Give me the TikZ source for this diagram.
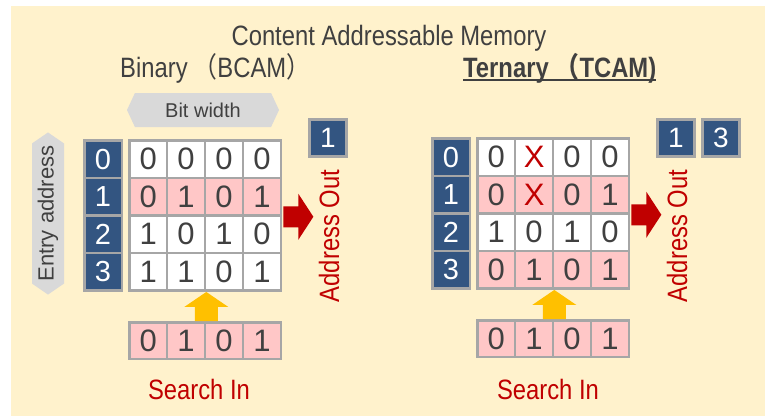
\documentclass[tikz,border=0pt]{standalone}
\usepackage{fontspec}
\setmainfont{Liberation Sans}
\newfontfamily\condfont[FakeStretch=0.85]{Liberation Sans}
\newfontfamily\cjkfont[FakeStretch=0.85]{Noto Sans CJK SC}
\usetikzlibrary{calc,shapes.arrows}
\definecolor{paper}{HTML}{FFF2CC}
\definecolor{ink}{HTML}{404040}
\definecolor{rim}{HTML}{A6A6A6}
\definecolor{slate}{HTML}{335581}
\definecolor{blush}{HTML}{FFC7C7}
\definecolor{crimson}{HTML}{C00000}
\definecolor{amber}{HTML}{FFC000}
\definecolor{mist}{HTML}{D9D9D9}
\newcommand{\dontcare}{\textcolor{crimson}{X}}
\tikzset{
	bit/.style={draw=rim, line width=2.5pt, fill=white, text=ink, inner sep=0pt,
			minimum width=37.9pt, minimum height=37.6pt, font=\fontsize{31}{31}\selectfont},
	addr/.style={bit, fill=slate, text=white, minimum width=37.5pt, font=\fontsize{29}{29}\selectfont},
	hit/.style={addr, minimum height=37.5pt, line width=3pt, font=\fontsize{28}{28}\selectfont},
	banner/.style={double arrow, double arrow head extend=0pt, fill=mist, text=ink, inner sep=2pt},
	caption/.style={font=\condfont\fontsize{28}{28}\selectfont, text=ink, inner sep=0pt},
	redlabel/.style={font=\condfont\fontsize{28}{28}\selectfont, text=crimson, inner sep=0pt}
}

\begin{document}
\begin{tikzpicture}[x=1pt, y=-1pt]
	\useasboundingbox (0,0) rectangle (765,416);
	\fill[paper] (11,6) rectangle (765,416);

	\node[caption, anchor=base] (title) at (389,45) {Content Addressable Memory};
	\node[caption, anchor=base west] (bcam) at (120,77) {Binary\hspace{6pt}{\cjkfont （}BCAM{\cjkfont ）}};
	\node[caption, anchor=base west, font=\condfont\bfseries\fontsize{28}{28}\selectfont] (tcam) at (463,77) {Ternary\hspace{7pt}{\cjkfont （}TCAM)};
	\draw[ink, line width=2pt] ($(tcam.base west)+(0,2.5)$) -- ($(tcam.base east)+(0,2.5)$);

	\node[banner, double arrow tip angle=130, minimum height=152pt, minimum width=34pt, font=\fontsize{20}{20}\selectfont] (bitw) at (203,110) {Bit width};
	\node[banner, rotate=90, double arrow tip angle=111, minimum height=159pt, minimum width=32pt, font=\fontsize{22}{22}\selectfont] (entry) at (48,213.5) {Entry address};

	\foreach \r/\bits/\shade in {0/{0,0,0,0}/white, 1/{0,1,0,1}/blush, 2/{1,0,1,0}/white, 3/{1,1,0,1}/white}{
		\node[addr] (ba-\r) at (103,159.1+37.6*\r) {\r};
		\foreach \b [count=\c from 0] in \bits
			\node[bit, fill=\shade] (b-\r-\c) at (148.2+37.9*\c,159.1+37.6*\r) {\b};
	}
	\foreach \b [count=\c from 0] in {0,1,0,1}
		\node[bit, fill=blush, minimum height=36.5pt] (bs-\c) at (148.2+37.9*\c,340.5) {\b};
	\node[hit] (bo-1) at (328,138) {1};

	\fill[amber] (b-3-1.south east) -- ++(22,15) -- ++(-10.5,0) -- ($(bs-1.north east)+(11.5,0)$)
		-- ($(bs-1.north east)+(-11.5,0)$) |- ($(b-3-1.south east)+(-22,15)$) -- cycle;
	\fill[crimson] ($(b-1-3.south east)+(1.25,-10.5)$) -- ++(15,0) -- ++(0,-12.5) -- ++(15,23)
		-- ++(-15,23) -- ++(0,-12.5) -- ++(-15,0) -- cycle;
	\node[redlabel, rotate=90, anchor=base] (bout) at (339,236) {Address Out};
	\node[redlabel, anchor=base] (bin) at (199,399) {Search In};

	\foreach \r/\bits/\shade in {0/{0,\dontcare,0,0}/white, 1/{0,\dontcare,0,1}/blush, 2/{1,0,1,0}/white, 3/{0,1,0,1}/blush}{
		\node[addr] (ta-\r) at (451,157.1+37.6*\r) {\r};
		\foreach \b [count=\c from 0] in \bits
			\node[bit, fill=\shade] (t-\r-\c) at (496.2+37.9*\c,157.1+37.6*\r) {\b};
	}
	\foreach \b [count=\c from 0] in {0,1,0,1}
		\node[bit, fill=blush, minimum height=36.5pt] (ts-\c) at (496.2+37.9*\c,338.5) {\b};
	\node[hit] (to-1) at (676,138) {1};
	\node[hit] (to-3) at (721,138) {3};

	\fill[amber] (t-3-1.south east) -- ++(22,15) -- ++(-10.5,0) -- ($(ts-1.north east)+(11.5,0)$)
		-- ($(ts-1.north east)+(-11.5,0)$) |- ($(t-3-1.south east)+(-22,15)$) -- cycle;
	\fill[crimson] ($(t-1-3.south east)+(1.25,-10.5)$) -- ++(15,0) -- ++(0,-12.5) -- ++(15,23)
		-- ++(-15,23) -- ++(0,-12.5) -- ++(-15,0) -- cycle;
	\node[redlabel, rotate=90, anchor=base] (tout) at (687,236) {Address Out};
	\node[redlabel, anchor=base] (tin) at (548,399) {Search In};
\end{tikzpicture}
\end{document}
